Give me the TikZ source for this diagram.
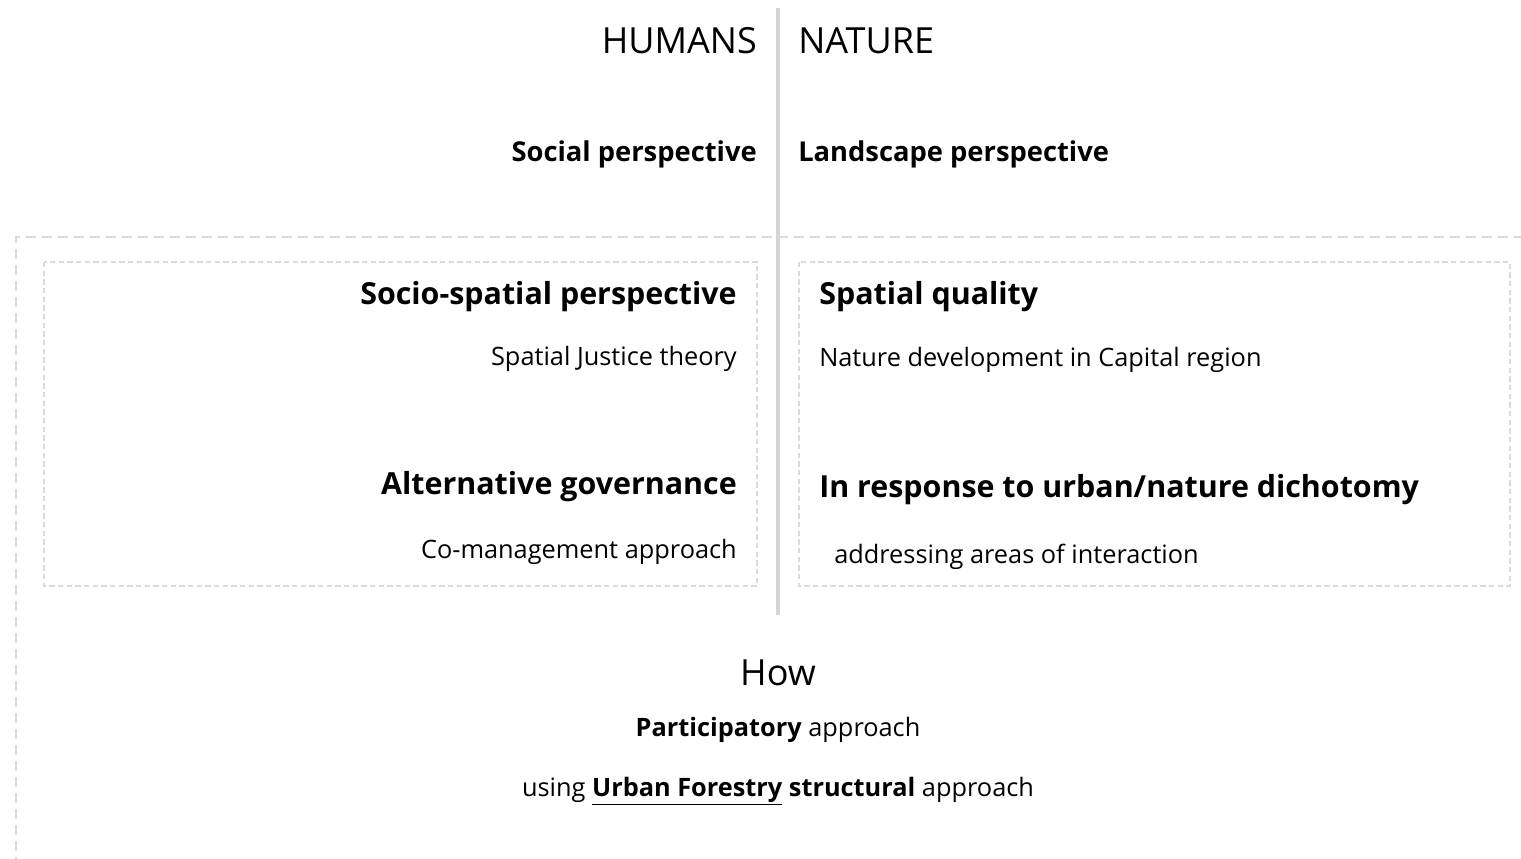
\documentclass[tikz,border=0pt]{standalone}
\usepackage{fontspec}
\setmainfont{Open Sans}

\definecolor{gristrait}{RGB}{212, 212, 212}
\definecolor{grispointille}{RGB}{218, 218, 218}

\tikzset{
  titre/.style={font=\fontsize{27}{32}\selectfont},
  perspective/.style={font=\fontsize{20.5}{24}\bfseries},
  theme/.style={font=\fontsize{22.8}{28}\bfseries},
  detail/.style={font=\fontsize{19}{23}\selectfont},
  cadre/.style={grispointille, line width=1pt, dash pattern=on 4pt off 2.5pt},
  pourtour/.style={grispointille, line width=1.5pt, dash pattern=on 7.5pt off 4.5pt}
}

\begin{document}
\begin{tikzpicture}[x=0.75pt, y=-0.75pt, inner sep=0pt]
  \clip (0, 0) rectangle (1521, 858);
  \fill[white] (0, 0) rectangle (1521, 858);
  % axe central
  \coordinate (haut) at (778, 8);
  \coordinate (bas) at (778, 615);
  \draw[gristrait, line width=3pt] (haut) -- (bas);
  % cadres
  \draw[pourtour] (1540, 237) -- (16, 237) -- (16, 880);
  \draw[cadre] (44, 262) rectangle (757, 586);
  \draw[cadre] (799, 262) rectangle (1510, 586);
  % en-tetes
  \node[titre, anchor=base east] (humains) at (757, 53) {HUMANS};
  \node[titre, anchor=base west] (nature) at (798, 53) {NATURE};
  \node[perspective, anchor=base east] (social) at (757, 161) {Social perspective};
  \node[perspective, anchor=base west] (paysage) at (798, 161) {Landscape perspective};
  % cote humains
  \node[theme, anchor=base east] (sociospatial) at (737, 304) {Socio-spatial perspective};
  \node[detail, anchor=base east] (justice) at (737, 365) {Spatial Justice theory};
  \node[theme, anchor=base east] (gouvernance) at (737, 494) {Alternative governance};
  \node[detail, anchor=base east] (cogestion) at (737, 558) {Co-management approach};
  % cote nature
  \node[theme, anchor=base west] (qualite) at (819, 304) {Spatial quality};
  \node[detail, anchor=base west] (developpement) at (819, 366) {Nature development in Capital region};
  \node[theme, anchor=base west] (dichotomie) at (819, 497) {In response to urban/nature dichotomy};
  \node[detail, anchor=base west] (interaction) at (834, 563) {addressing areas of interaction};
  % comment
  \node[titre, anchor=base] (comment) at (778, 685) {How};
  \node[detail, anchor=base] (participatif) at (778, 736) {\textbf{Participatory} approach};
  \node[detail, anchor=base] (foresterie) at (778, 796) {using \underline{\textbf{Urban Forestry}} \textbf{structural} approach};
\end{tikzpicture}
\end{document}
